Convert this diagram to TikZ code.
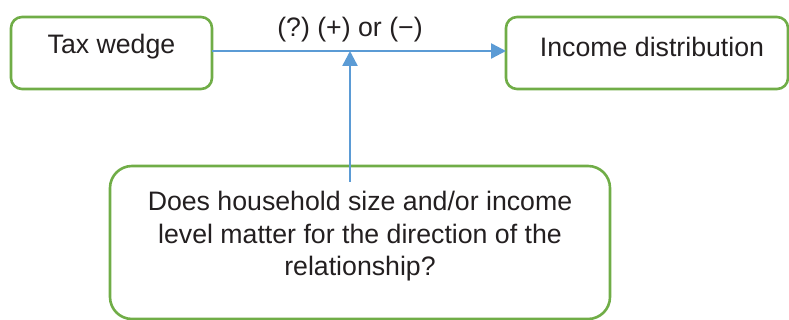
\documentclass[tikz,border=0pt]{standalone}
\usepackage{fontspec}
\setmainfont{Liberation Sans}
\usetikzlibrary{arrows.meta}
\definecolor{boxgreen}{HTML}{70AD47}
\definecolor{arrowblue}{HTML}{5B9BD5}
\definecolor{txt}{HTML}{231F20}
\frenchspacing
\begin{document}
\begin{tikzpicture}[x=1pt,y=-1pt,
  gbox/.style={draw=boxgreen,line width=2.6pt,rounded corners=11pt,inner sep=0pt},
  lbl/.style={font=\fontsize{26.7}{32.5}\selectfont,text=txt,align=center,inner sep=0pt},
  conn/.style={draw=arrowblue,line width=2.4pt,-{Triangle[length=15pt,width=15pt]}}]
\useasboundingbox (0,0) rectangle (789,320);
\draw[gbox] (11,17) rectangle (212,89);
\node[lbl] (tw) at (111.5,47) {Tax wedge};
\coordinate (twE) at (212,51);
\draw[gbox] (506,17) rectangle (788,89);
\node[lbl] (id) at (652,47) {Income distribution};
\coordinate (idW) at (506,51);
\draw[gbox,rounded corners=22pt] (110,166) rectangle (610,319);
\node[lbl,anchor=north] (q) at (360,191) {Does household size and/or income\\level matter for the direction of the\\relationship?};
\draw[conn] (twE) -- (idW);
\coordinate (mid) at (350,51);
\coordinate (qtop) at (350,182);
\draw[conn] (qtop) -- (mid);
\node[lbl] (sign) at (350,30) {(?) (+) or (−)};
\end{tikzpicture}
\end{document}
